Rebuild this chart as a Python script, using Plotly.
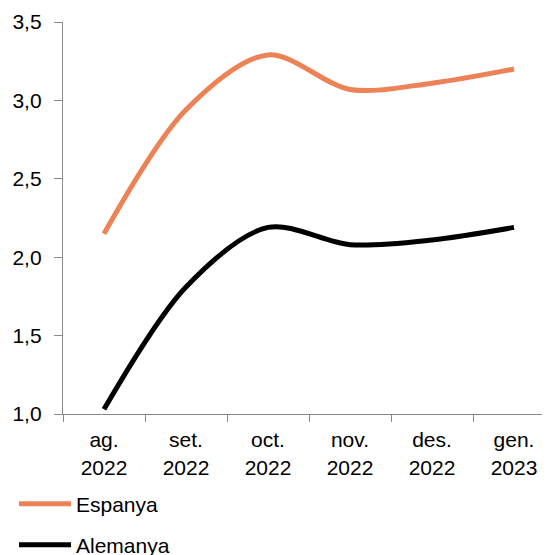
import plotly.graph_objects as go

months = ["ag.", "set.", "oct.", "nov.", "des.", "gen."]
years = ["2022", "2022", "2022", "2022", "2022", "2023"]
espanya = [2.15, 2.94, 3.29, 3.07, 3.11, 3.20]
alemanya = [1.03, 1.81, 2.19, 2.08, 2.11, 2.19]
yticks = [1.0, 1.5, 2.0, 2.5, 3.0, 3.5]

labels = [f"{m}<br>{y}" for m, y in zip(months, years)]
xpos = list(range(len(months)))
FONT = "Liberation Sans, Arial, sans-serif"
AXC = "#898989"

fig = go.Figure()
fig.add_trace(go.Scatter(x=xpos, y=espanya, name="Espanya", mode="lines",
                         line=dict(color="#EE8257", width=5, shape="spline", smoothing=0.9),
                         legend="legend"))
fig.add_trace(go.Scatter(x=xpos, y=alemanya, name="Alemanya", mode="lines",
                         line=dict(color="#000000", width=5, shape="spline", smoothing=0.9),
                         legend="legend2"))

# page body has an 8px margin, so the figure is shifted by (8, 8)
W, H = 542, 547
L, T = 55, 14
PH = 392
B = H - T - PH
plot_w = W - L
unit = 82.0
xmax = -0.5 + plot_w / unit
plot_bottom = T + PH

def py(page_y):
    return (plot_bottom - (page_y - 8)) / PH

leg_x = (6 - L) / plot_w

fig.update_layout(
    width=W, height=H,
    margin=dict(l=L, r=0, t=T, b=B, autoexpand=False),
    paper_bgcolor="white", plot_bgcolor="white",
    separators=",.",
    font=dict(family=FONT, size=21, color="#000000"),
    xaxis=dict(
        range=[-0.5, xmax], tickmode="array", tickvals=xpos, ticktext=labels,
        ticks="", showgrid=False, zeroline=False,
        showline=True, linecolor=AXC, linewidth=1.3,
        minor=dict(tickmode="array", tickvals=[i - 0.5 for i in range(len(months) + 1)],
                   ticks="outside", ticklen=7, tickcolor=AXC, tickwidth=1.3, showgrid=False),
        tickfont=dict(size=21), ticklabelstandoff=7,
    ),
    yaxis=dict(
        range=[1.0, 3.5], tickmode="array", tickvals=yticks,
        tickformat=".1f", ticks="outside", ticklen=8, tickcolor=AXC, tickwidth=1.3,
        showgrid=False, zeroline=False, showline=True, linecolor=AXC, linewidth=1.3,
        tickfont=dict(size=21), ticklabelstandoff=8,
    ),
    legend=dict(x=leg_x, y=py(504), xref="paper", yref="paper",
                xanchor="left", yanchor="middle", itemwidth=52,
                bgcolor="rgba(0,0,0,0)", font=dict(size=21), borderwidth=0,
                tracegroupgap=0, itemclick=False),
    legend2=dict(x=leg_x, y=py(545), xref="paper", yref="paper",
                 xanchor="left", yanchor="middle", itemwidth=52,
                 bgcolor="rgba(0,0,0,0)", font=dict(size=21), borderwidth=0,
                 tracegroupgap=0, itemclick=False),
    showlegend=True,
)

fig.write_html("out.html")
